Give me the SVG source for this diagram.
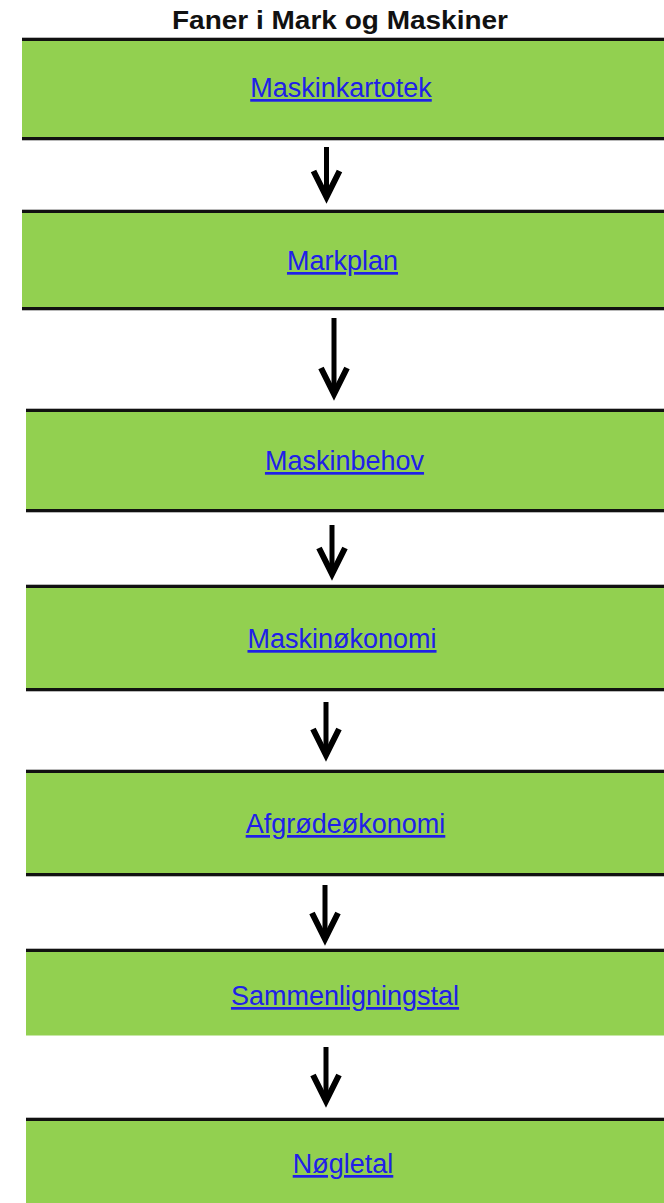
<svg xmlns="http://www.w3.org/2000/svg" width="664" height="1203" viewBox="0 0 664 1203">
  <defs>
    <style>
      .fill { fill: #92d050; }
      .edge { fill: #111111; }
      .edge2 { fill: #b8b8b8; }
      .lbl { font-family: "Liberation Sans", Arial, sans-serif; font-size: 27px; fill: #2020e8; text-decoration: underline; text-anchor: middle; }
      .title { font-family: "Liberation Sans", Arial, sans-serif; font-size: 26px; font-weight: bold; fill: #111111; }
      .conn { stroke: #000000; stroke-width: 5; fill: none; }
    </style>
    <marker id="chev" markerUnits="userSpaceOnUse" orient="auto" markerWidth="40" markerHeight="40" refX="0" refY="0" viewBox="-34 -20 40 40" overflow="visible">
      <path d="M-26,-13 L0,0 L-26,13" stroke="#000000" stroke-width="6" fill="none" stroke-linejoin="miter"/>
    </marker>
  </defs>
  <rect width="664" height="1203" fill="#ffffff"/>

  <text class="title" x="172" y="29" textLength="336" lengthAdjust="spacingAndGlyphs">Faner i Mark og Maskiner</text>

  <g id="n1">
    <rect class="fill" x="22" y="41" width="642" height="96"/>
    <rect class="edge2" x="22" y="37" width="642" height="1"/>
    <rect class="edge" x="22" y="38" width="642" height="3"/>
    <rect class="edge" x="22" y="137" width="642" height="3"/>
    <rect class="edge2" x="22" y="140" width="642" height="1"/>
    <text class="lbl" x="341" y="97">Maskinkartotek</text>
  </g>
  <g id="n2">
    <rect class="fill" x="22" y="213" width="642" height="94"/>
    <rect class="edge2" x="22" y="209" width="642" height="1"/>
    <rect class="edge" x="22" y="210" width="642" height="3"/>
    <rect class="edge" x="22" y="307" width="642" height="3"/>
    <rect class="edge2" x="22" y="310" width="642" height="1"/>
    <text class="lbl" x="342.5" y="270">Markplan</text>
  </g>
  <g id="n3">
    <rect class="fill" x="26" y="412" width="638" height="97"/>
    <rect class="edge2" x="26" y="408" width="638" height="1"/>
    <rect class="edge" x="26" y="409" width="638" height="3"/>
    <rect class="edge" x="26" y="509" width="638" height="3"/>
    <rect class="edge2" x="26" y="512" width="638" height="1"/>
    <text class="lbl" x="344.5" y="470">Maskinbehov</text>
  </g>
  <g id="n4">
    <rect class="fill" x="26" y="588" width="638" height="100"/>
    <rect class="edge2" x="26" y="584" width="638" height="1"/>
    <rect class="edge" x="26" y="585" width="638" height="3"/>
    <rect class="edge" x="26" y="688" width="638" height="3"/>
    <rect class="edge2" x="26" y="691" width="638" height="1"/>
    <text class="lbl" x="342" y="648">Maskinøkonomi</text>
  </g>
  <g id="n5">
    <rect class="fill" x="26" y="773" width="638" height="100"/>
    <rect class="edge2" x="26" y="769" width="638" height="1"/>
    <rect class="edge" x="26" y="770" width="638" height="3"/>
    <rect class="edge" x="26" y="873" width="638" height="3"/>
    <rect class="edge2" x="26" y="876" width="638" height="1"/>
    <text class="lbl" x="345.5" y="833">Afgrødeøkonomi</text>
  </g>
  <g id="n6">
    <rect class="fill" x="26" y="952" width="638" height="83.5"/>
    <rect class="edge2" x="26" y="948" width="638" height="1"/>
    <rect class="edge" x="26" y="949" width="638" height="3"/>
    <text class="lbl" x="345" y="1005">Sammenligningstal</text>
  </g>
  <g id="n7">
    <rect class="fill" x="26" y="1121" width="638" height="82"/>
    <rect class="edge2" x="26" y="1117" width="638" height="1"/>
    <rect class="edge" x="26" y="1118" width="638" height="3"/>
    <text class="lbl" x="343" y="1173">Nøgletal</text>
  </g>

  <g id="connectors">
    <path class="conn" d="M326.5,147 V197" marker-end="url(#chev)"/>
    <path class="conn" d="M334,318 V394" marker-end="url(#chev)"/>
    <path class="conn" d="M332,525 V574" marker-end="url(#chev)"/>
    <path class="conn" d="M326,702 V755" marker-end="url(#chev)"/>
    <path class="conn" d="M325,885 V939" marker-end="url(#chev)"/>
    <path class="conn" d="M326,1047 V1101" marker-end="url(#chev)"/>
  </g>
</svg>
